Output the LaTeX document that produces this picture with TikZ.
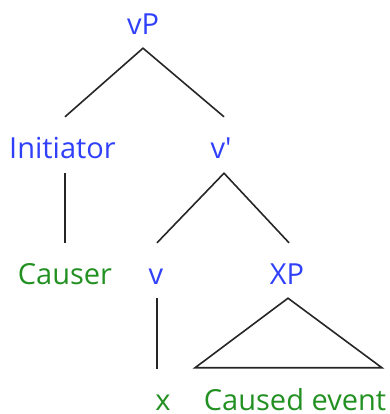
\documentclass[tikz,border=0pt]{standalone}
\usepackage{fontspec}
\setmainfont{Open Sans}
\definecolor{catblue}{RGB}{48,64,250}
\definecolor{lexgreen}{RGB}{34,145,34}
\begin{document}
\begin{tikzpicture}[x=1pt,y=1pt,
  lbl/.style={anchor=base,inner xsep=0pt,inner ysep=0pt,text height=21pt,text depth=6pt,font=\fontsize{29}{34}\selectfont},
  cat/.style={lbl,text=catblue},
  lex/.style={lbl,text=lexgreen},
  leaf/.style={lex,text depth=0pt},
  branch/.style={draw=black!85,line width=1.6pt}]
\useasboundingbox (0,0) rectangle (389,414);
\node[cat] (vP) at (143,379) {vP};
\node[cat] (Init) at (62.5,255) {Initiator};
\node[cat] (vbar) at (221,255) {v\textquotesingle};
\node[lex] (Causer) at (65,129) {Causer};
\node[cat] (v) at (156,129) {v};
\node[cat] (XP) at (287,129) {XP};
\node[leaf] (x) at (163,3.5) {x};
\node[leaf] (CE) at (295,3.5) {Caused event};
\draw[branch] ([xshift=2.5pt,yshift=21pt]Init.north) -- ([yshift=-7pt]vP.south) -- ([xshift=3pt,yshift=21pt]vbar.north);
\draw[branch] ([xshift=2.5pt,yshift=-8pt]Init.south) -- ([yshift=21pt]Causer.north);
\draw[branch] ([xshift=1pt,yshift=21pt]v.north) -- ([xshift=3pt,yshift=-8pt]vbar.south) -- ([xshift=2pt,yshift=21pt]XP.north);
\draw[branch] ([xshift=1pt,yshift=-7pt]v.south) -- ([xshift=-6pt,yshift=20.5pt]x.north);
\draw[branch,line join=miter] ([xshift=1pt,yshift=-7pt]XP.south) -- ([xshift=-100pt,yshift=21.5pt]CE.north) -- ([xshift=87pt,yshift=21.5pt]CE.north) -- cycle;
\end{tikzpicture}
\end{document}
